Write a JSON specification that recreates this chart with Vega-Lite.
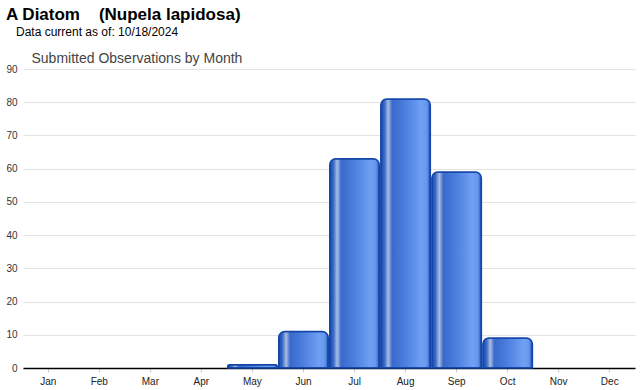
{
  "$schema": "https://vega.github.io/schema/vega-lite/v6.json",
  "width": 612,
  "height": 299,
  "autosize": {"type": "none"},
  "padding": {"left": 23, "top": 69, "right": 5, "bottom": 22},
  "background": "white",
  "config": {
    "font": "Liberation Sans",
    "view": {"stroke": null}
  },
  "title": {
    "text": "A Diatom \u00a0\u00a0\u00a0(Nupela lapidosa)",
    "subtitle": "\u200b\u00a0\u00a0\u00a0Data current as of: 10/18/2024",
    "anchor": "start",
    "frame": "group",
    "fontSize": 17,
    "fontWeight": "bold",
    "color": "#000000",
    "subtitleFontSize": 12,
    "subtitleColor": "#000000",
    "subtitlePadding": 3,
    "dx": -17,
    "dy": -8,
    "offset": 4
  },
  "data": {
    "values": [
      {"month": "Jan", "count": 0},
      {"month": "Feb", "count": 0},
      {"month": "Mar", "count": 0},
      {"month": "Apr", "count": 0},
      {"month": "May", "count": 1},
      {"month": "Jun", "count": 11},
      {"month": "Jul", "count": 63},
      {"month": "Aug", "count": 81},
      {"month": "Sep", "count": 59},
      {"month": "Oct", "count": 9},
      {"month": "Nov", "count": 0},
      {"month": "Dec", "count": 0}
    ]
  },
  "transform": [{"filter": "datum.count > 0"}],
  "mark": {
    "type": "bar",
    "stroke": "#1446a8",
    "strokeWidth": 1.5,
    "cornerRadiusTopLeft": 6,
    "cornerRadiusTopRight": 6,
    "color": {
      "gradient": "linear",
      "x1": 0, "x2": 1, "y1": 0, "y2": 0,
      "stops": [
        {"offset": 0, "color": "#1a4cb0"},
        {"offset": 0.07, "color": "#3566c6"},
        {"offset": 0.15, "color": "#a9bde2"},
        {"offset": 0.23, "color": "#3a69cc"},
        {"offset": 0.5, "color": "#4d80df"},
        {"offset": 0.82, "color": "#6fa0f3"},
        {"offset": 0.93, "color": "#6598ec"},
        {"offset": 1, "color": "#2456bc"}
      ]
    }
  },
  "encoding": {
    "x": {
      "field": "month",
      "type": "nominal",
      "sort": null,
      "scale": {
        "domain": ["Jan", "Feb", "Mar", "Apr", "May", "Jun", "Jul", "Aug", "Sep", "Oct", "Nov", "Dec"],
        "paddingInner": 0.03,
        "paddingOuter": 0.01
      },
      "axis": {
        "title": null,
        "labelAngle": 0,
        "labelFontSize": 10,
        "labelColor": "#222222",
        "labelPadding": 4,
        "domainColor": "#000000",
        "domainWidth": 1.5,
        "tickColor": "#cccccc",
        "tickSize": 4
      }
    },
    "y": {
      "field": "count",
      "type": "quantitative",
      "scale": {"domain": [0, 90], "nice": false},
      "axis": {
        "values": [0, 10, 20, 30, 40, 50, 60, 70, 80, 90],
        "title": "Submitted Observations by Month",
        "titleAngle": 0,
        "titleAlign": "left",
        "titleBaseline": "alphabetic",
        "titleX": 8,
        "titleY": -7,
        "titleFontSize": 14,
        "titleFontWeight": "normal",
        "titleColor": "#444444",
        "labelFontSize": 10,
        "labelColor": "#333333",
        "labelPadding": 6,
        "domain": false,
        "ticks": false,
        "gridColor": "#e3e3e3",
        "gridWidth": 1
      }
    }
  }
}
